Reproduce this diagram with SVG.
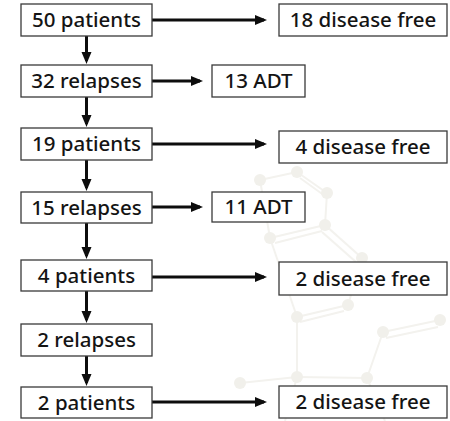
<svg xmlns="http://www.w3.org/2000/svg" width="450" height="421" viewBox="0 0 450 421">
<defs>
<style>
.box rect{fill:#fff;stroke:#3a3a3a;stroke-width:1.3}
.box text{font-family:"Noto Sans","Open Sans",sans-serif;font-size:20.5px;font-weight:500;fill:#141414;text-anchor:middle}
.conn line{stroke:#0d0d0d;stroke-width:3}
.wm line{stroke:#f3f2ee;stroke-width:2}
.wm circle{fill:#f1f0eb}
</style>
<marker id="ah" markerUnits="userSpaceOnUse" markerWidth="13" markerHeight="11" refX="9" refY="5" orient="auto">
<path d="M0,0 L12,5 L0,10 z" fill="#0d0d0d"/>
</marker>
</defs>
<rect width="450" height="421" fill="#fff"/>
<g class="wm">
<line x1="260" y1="180" x2="297" y2="172"/>
<line x1="297" y1="172" x2="327" y2="193"/>
<line x1="300" y1="178" x2="325" y2="196"/>
<line x1="327" y1="193" x2="325" y2="225"/>
<line x1="325" y1="225" x2="270" y2="238"/>
<line x1="322" y1="231" x2="275" y2="243"/>
<line x1="270" y1="238" x2="260" y2="180"/>
<line x1="325" y1="225" x2="362" y2="258"/>
<line x1="322" y1="232" x2="356" y2="262"/>
<line x1="362" y1="258" x2="348" y2="305"/>
<line x1="348" y1="305" x2="297" y2="317"/>
<line x1="344" y1="311" x2="300" y2="322"/>
<line x1="270" y1="238" x2="297" y2="317"/>
<line x1="297" y1="317" x2="297" y2="377"/>
<line x1="297" y1="377" x2="367" y2="378"/>
<line x1="367" y1="378" x2="383" y2="332"/>
<line x1="383" y1="332" x2="440" y2="320"/>
<line x1="386" y1="338" x2="438" y2="327"/>
<line x1="297" y1="377" x2="240" y2="383"/>
<line x1="367" y1="378" x2="385" y2="421"/>
<line x1="297" y1="377" x2="285" y2="421"/>
<circle cx="260" cy="180" r="6"/>
<circle cx="297" cy="172" r="6"/>
<circle cx="327" cy="193" r="6"/>
<circle cx="325" cy="225" r="6"/>
<circle cx="270" cy="238" r="6"/>
<circle cx="362" cy="258" r="6"/>
<circle cx="348" cy="305" r="6"/>
<circle cx="297" cy="317" r="6"/>
<circle cx="383" cy="332" r="6"/>
<circle cx="440" cy="320" r="6"/>
<circle cx="297" cy="377" r="6"/>
<circle cx="367" cy="378" r="6"/>
<circle cx="240" cy="383" r="6"/>
</g>
<g class="conn">
<line x1="152" y1="20" x2="264" y2="20" marker-end="url(#ah)"/>
<line x1="152" y1="81" x2="200" y2="81" marker-end="url(#ah)"/>
<line x1="152" y1="144" x2="264" y2="144" marker-end="url(#ah)"/>
<line x1="152" y1="207" x2="200" y2="207" marker-end="url(#ah)"/>
<line x1="152" y1="277" x2="264" y2="277" marker-end="url(#ah)"/>
<line x1="152" y1="402" x2="264" y2="402" marker-end="url(#ah)"/>
<line x1="86.5" y1="36" x2="86.5" y2="61" marker-end="url(#ah)"/>
<line x1="86.5" y1="97" x2="86.5" y2="124" marker-end="url(#ah)"/>
<line x1="86.5" y1="160" x2="86.5" y2="188" marker-end="url(#ah)"/>
<line x1="86.5" y1="223" x2="86.5" y2="256" marker-end="url(#ah)"/>
<line x1="86.5" y1="291" x2="86.5" y2="320" marker-end="url(#ah)"/>
<line x1="86.5" y1="356" x2="86.5" y2="383" marker-end="url(#ah)"/>
</g>
<g id="n1" class="box"><rect x="21" y="4" width="131" height="32"/><text x="86.5" y="27">50 patients</text></g>
<g id="n2" class="box"><rect x="279" y="4" width="168" height="32"/><text x="363" y="27">18 disease free</text></g>
<g id="n3" class="box"><rect x="21" y="65" width="131" height="32"/><text x="86.5" y="88">32 relapses</text></g>
<g id="n4" class="box"><rect x="212" y="65" width="93" height="32"/><text x="258.5" y="88">13 ADT</text></g>
<g id="n5" class="box"><rect x="21" y="128" width="131" height="32"/><text x="86.5" y="151">19 patients</text></g>
<g id="n6" class="box"><rect x="279" y="131" width="168" height="32"/><text x="363" y="154">4 disease free</text></g>
<g id="n7" class="box"><rect x="21" y="192" width="131" height="31"/><text x="86.5" y="215">15 relapses</text></g>
<g id="n8" class="box"><rect x="212" y="192" width="93" height="30"/><text x="258.5" y="214">11 ADT</text></g>
<g id="n9" class="box"><rect x="21" y="260" width="131" height="31"/><text x="86.5" y="283">4 patients</text></g>
<g id="n10" class="box"><rect x="279" y="262" width="168" height="33"/><text x="363" y="286">2 disease free</text></g>
<g id="n11" class="box"><rect x="21" y="324" width="131" height="32"/><text x="86.5" y="347">2 relapses</text></g>
<g id="n12" class="box"><rect x="21" y="387" width="131" height="31"/><text x="86.5" y="410">2 patients</text></g>
<g id="n13" class="box"><rect x="279" y="386" width="168" height="32"/><text x="363" y="409">2 disease free</text></g>
</svg>
